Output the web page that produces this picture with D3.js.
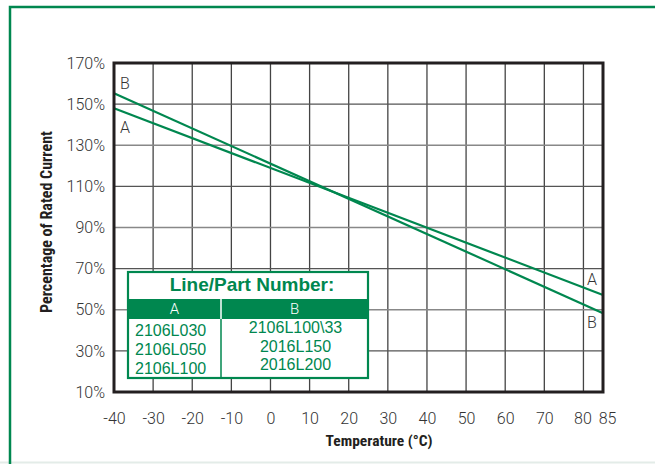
<!DOCTYPE html>
<html><head><meta charset="utf-8">
<script src="https://cdn.jsdelivr.net/npm/d3@7"></script>
<style>
html,body{margin:0;padding:0;background:#fff;}
svg{display:block;}
</style></head>
<body>
<script>
// ---- data ----
const xTicks = [-40,-30,-20,-10,0,10,20,30,40,50,60,70,80,85];
const yTicks = [10,30,50,70,90,110,130,150,170];
const seriesNames = ["A","B"];
const seriesA = [[-40,148],[85,57.2]];
const seriesB = [[-40,155.3],[85,48.3]];
const tableTitle = "Line/Part Number:";
const partsA = ["2106L030","2106L050","2106L100"];
const partsB = ["2106L100\\33","2016L150","2016L200"];
const xTitle = "Temperature (°C)";
const yTitle = "Percentage of Rated Current";

const W=655,H=464;
const green="#00874f";
const svg=d3.select("body").append("svg").attr("width",W).attr("height",H);

// frame
svg.append("line").attr("x1",0).attr("x2",W).attr("y1",462.5).attr("y2",462.5).attr("stroke","#e3ece8").attr("stroke-width",2);
svg.append("rect").attr("x",10).attr("y",7).attr("width",W+20).attr("height",H+20)
  .attr("fill","none").attr("stroke",green).attr("stroke-width",2.5);

const L=114,R=603,T=63,B=392;
const x=d3.scaleLinear().domain([-40,85]).range([L,R]);
const y=d3.scaleLinear().domain([10,170]).range([B,T]);

const grid=svg.append("g");
grid.selectAll("line.v").data(xTicks.filter(d=>d>-40&&d<85)).join("line")
  .attr("x1",d=>x(d)).attr("x2",d=>x(d)).attr("y1",T).attr("y2",B)
  .attr("stroke","#444").attr("stroke-width",1.3);
grid.selectAll("line.h").data(yTicks.filter(d=>d>10&&d<170)).join("line")
  .attr("y1",d=>y(d)).attr("y2",d=>y(d)).attr("x1",L).attr("x2",R)
  .attr("stroke",(d,i)=>i%2===0?"#555":"#888").attr("stroke-width",1.4);

// series lines
const line=d3.line().x(d=>x(d[0])).y(d=>y(d[1]));
[seriesA,seriesB].forEach(s=>{
  svg.append("path").datum(s).attr("d",line).attr("fill","none").attr("stroke",green).attr("stroke-width",2.2);
});

// plot border
svg.append("rect").attr("x",L).attr("y",T).attr("width",R-L).attr("height",B-T)
  .attr("fill","none").attr("stroke","#231f20").attr("stroke-width",3);

// axes labels
const tickFont="Roboto, 'Liberation Sans', Arial, sans-serif";
const xAxis=d3.axisBottom(x).tickValues(xTicks).tickSize(0).tickPadding(21).tickFormat(d=>d);
const gx=svg.append("g").attr("transform",`translate(0,${B})`).call(xAxis);
gx.select(".domain").remove();
gx.selectAll("text").attr("font-family",tickFont).attr("font-weight",300).attr("font-size",16).attr("fill","#333")
  .attr("dx",d=>d===85?4:(d===80?-1:0));

const yAxis=d3.axisLeft(y).tickValues(yTicks).tickSize(0).tickPadding(9).tickFormat(d=>d+"%");
const gy=svg.append("g").attr("transform",`translate(${L},0)`).call(yAxis);
gy.select(".domain").remove();
gy.selectAll("text").attr("font-family",tickFont).attr("font-weight",300).attr("font-size",16).attr("fill","#333");

// axis titles
const titleFont="'Liberation Sans Narrow','Roboto Condensed','Arial Narrow', sans-serif";
svg.append("text").attr("x",379).attr("y",446).attr("text-anchor","middle")
  .attr("font-family",titleFont).attr("font-weight","bold").attr("font-size",15.5).attr("fill","#231f20").text(xTitle);
svg.append("text").attr("transform","translate(52,222) rotate(-90)").attr("text-anchor","middle")
  .attr("font-family",titleFont).attr("font-weight","bold").attr("font-size",16).attr("fill","#231f20").text(yTitle);

// series labels
const lab=[["B",-40,seriesB[0][1],-1,-4.5],["A",-40,seriesA[0][1],-1,25],["A",85,seriesA[1][1],1,-10],["B",85,seriesB[1][1],1,15]];
lab.forEach(([t,xv,yv,side,dy])=>{
  svg.append("text").attr("x",side<0?x(xv)+6:x(xv)-16).attr("y",y(yv)+dy)
   .attr("font-family",tickFont).attr("font-weight",300).attr("font-size",16).attr("fill","#333").text(t);
});

// table legend
const legFont="'Liberation Sans', Arial, sans-serif";
const tx=128,ty=272,tw=240,th=106,colX=221,hdrY=299,hdrH=20;
const tg=svg.append("g");
tg.append("rect").attr("x",tx).attr("y",ty).attr("width",tw).attr("height",th).attr("fill","#fff").attr("stroke",green).attr("stroke-width",2.2);
tg.append("rect").attr("x",tx).attr("y",hdrY).attr("width",tw).attr("height",hdrH).attr("fill",green);
tg.append("line").attr("x1",colX).attr("x2",colX).attr("y1",hdrY).attr("y2",hdrY+hdrH).attr("stroke","#fff").attr("stroke-width",1.5);
tg.append("line").attr("x1",colX).attr("x2",colX).attr("y1",hdrY+hdrH).attr("y2",ty+th).attr("stroke",green).attr("stroke-width",1.5);
tg.append("text").attr("x",tx+tw/2+4).attr("y",ty+19).attr("text-anchor","middle")
  .attr("font-family",legFont).attr("font-weight","bold").attr("font-size",19).attr("fill",green).text(tableTitle);
tg.append("text").attr("x",(tx+colX)/2).attr("y",hdrY+15).attr("text-anchor","middle")
  .attr("font-family",tickFont).attr("font-weight",300).attr("font-size",15).attr("fill","#fff").text(seriesNames[0]);
tg.append("text").attr("x",(colX+tx+tw)/2).attr("y",hdrY+15).attr("text-anchor","middle")
  .attr("font-family",tickFont).attr("font-weight",300).attr("font-size",15).attr("fill","#fff").text(seriesNames[1]);
partsA.forEach((p,i)=>tg.append("text").attr("x",tx+7).attr("y",336+i*19).attr("font-family",legFont).attr("font-size",16).attr("fill",green).text(p));
partsB.forEach((p,i)=>tg.append("text").attr("x",(colX+tx+tw)/2+1).attr("y",333+i*18.5).attr("text-anchor","middle").attr("font-family",legFont).attr("font-size",16).attr("fill",green).text(p));
</script>
</body></html>
